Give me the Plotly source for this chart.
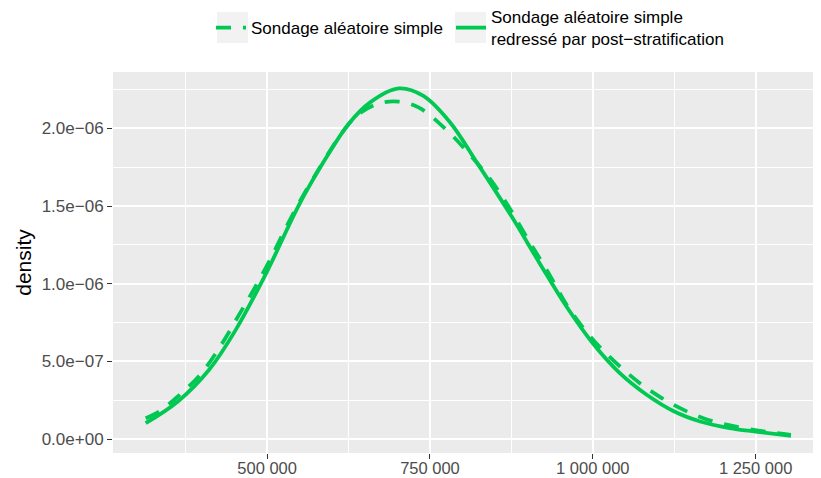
import plotly.graph_objects as go

# Solid: Sondage aléatoire simple redressé par post-stratification
x_post = [313500, 362900, 410900, 452000, 500000, 548000, 589100, 624800, 657700,
          702200, 739900, 781000, 822100, 875000, 918100, 959300, 999700, 1041500,
          1082700, 1125200, 1164900, 1210000, 1250000, 1304200]
y_post = [0.103, 0.243, 0.447, 0.705, 1.08, 1.50, 1.80, 2.026, 2.165,
          2.256, 2.208, 2.037, 1.779, 1.435, 1.134, 0.855, 0.619, 0.425,
          0.286, 0.178, 0.114, 0.072, 0.049, 0.021]

# Dashed: Sondage aléatoire simple
x_sas = [313500, 334100, 362900, 397200, 428000, 455400, 479400, 503400, 527400,
         554800, 582300, 606300, 637100, 671400, 702200, 733100, 774200, 808500,
         842800, 870200, 897600, 931900, 959300, 986700, 1014100, 1048400, 1082700,
         1127300, 1171900, 1219900, 1274800, 1304200]
y_sas = [0.135, 0.178, 0.275, 0.415, 0.597, 0.79, 0.962, 1.145, 1.349,
         1.564, 1.757, 1.918, 2.08, 2.159, 2.172, 2.133, 1.994, 1.843,
         1.671, 1.50, 1.306, 1.07, 0.868, 0.708, 0.578, 0.443, 0.328,
         0.214, 0.132, 0.081, 0.043, 0.028]

x_tickvals = [500000, 750000, 1000000, 1250000]
x_ticktext = ["500 000", "750 000", "1 000 000", "1 250 000"]
y_tickvals = [0, 0.5e-6, 1.0e-6, 1.5e-6, 2.0e-6]
y_ticktext = ["0.0e+00", "5.0e\u221207", "1.0e\u221206", "1.5e\u221206", "2.0e\u221206"]

green = "#00C853"
font = "Liberation Sans, Arial, sans-serif"

fig = go.Figure()
fig.add_trace(go.Scatter(
    x=x_sas, y=[v * 1e-6 for v in y_sas], mode="lines",
    line=dict(color=green, width=3.8, dash="15px,12px", shape="spline"),
    name="Sondage aléatoire simple", legend="legend"))
fig.add_trace(go.Scatter(
    x=x_post, y=[v * 1e-6 for v in y_post], mode="lines",
    line=dict(color=green, width=3.8, shape="spline"),
    name="Sondage aléatoire simple<br>redressé par post\u2212stratification",
    legend="legend2"))

axis_common = dict(showgrid=True, gridcolor="white", gridwidth=1.5, zeroline=False,
                   ticks="outside", ticklen=5, tickcolor="#333333", tickwidth=1.3,
                   showline=False, automargin=False)

legend_common = dict(orientation="h", xref="container", yref="container",
                     xanchor="left", yanchor="middle",
                     font=dict(size=17, color="#000000", family=font),
                     bgcolor="rgba(0,0,0,0)", itemwidth=30, valign="middle")

# grey legend key backgrounds (decoration)
key_bg = [(0.1473, 0.1912), (0.4844, 0.5283)]
shapes = [dict(type="rect", xref="paper", yref="paper", x0=a, x1=b, y0=1.0760, y1=1.1575,
               fillcolor="#F2F2F2", line=dict(width=0), layer="below") for a, b in key_bg]

fig.update_layout(
    width=813, height=470,
    margin=dict(l=105, r=2, t=64, b=25),
    paper_bgcolor="white", plot_bgcolor="#EBEBEB",
    font=dict(family=font, size=17, color="#000000"),
    showlegend=True,
    legend=dict(x=203 / 813, y=0.9574, **legend_common),
    legend2=dict(x=443 / 813, y=0.9574, **legend_common),
    shapes=shapes,
    xaxis=dict(range=[263350, 1347300], tickvals=x_tickvals, ticktext=x_ticktext,
               ticklabelstandoff=-5,
               tickfont=dict(size=16.5, color="#4D4D4D", family=font),
               minor=dict(tickvals=[375000, 625000, 875000, 1125000], showgrid=True,
                          gridcolor="white", gridwidth=0.7, ticks=""),
               **axis_common),
    yaxis=dict(range=[-0.0887e-6, 2.362e-6], tickvals=y_tickvals, ticktext=y_ticktext,
               tickfont=dict(size=17, color="#4D4D4D", family=font),
               minor=dict(tickvals=[0.25e-6, 0.75e-6, 1.25e-6, 1.75e-6, 2.25e-6],
                          showgrid=True, gridcolor="white", gridwidth=0.7, ticks=""),
               title=dict(text="density", font=dict(size=21, color="#000000", family=font),
                          standoff=4),
               **axis_common),
)
fig.write_html("out.html")
